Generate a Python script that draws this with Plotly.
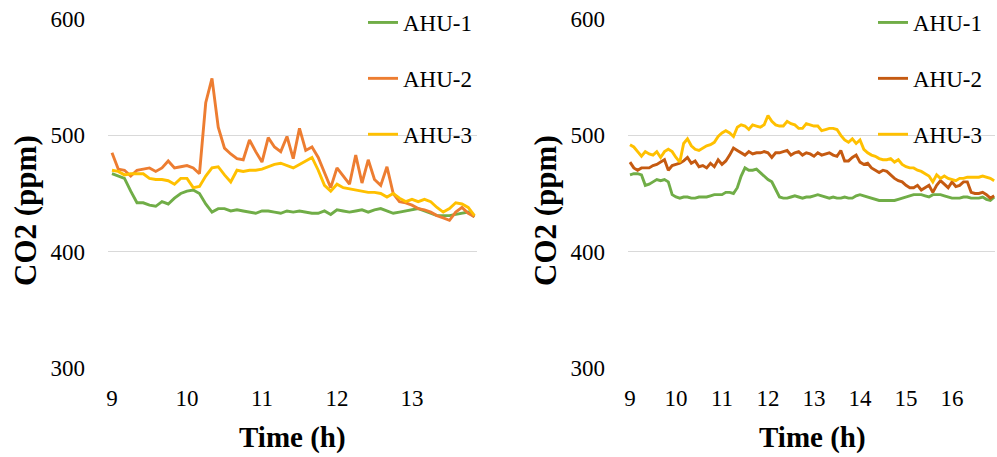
import plotly.graph_objects as go

# ---------------- data ----------------
series_names = ["AHU-1", "AHU-2", "AHU-3"]
x_ticks_left = [9, 10, 11, 12, 13]
x_ticks_right = [9, 10, 11, 12, 13, 14, 15, 16]
y_ticks = [300, 400, 500, 600]

# left panel (5-min samples from 9:00)
left_ahu1 = [467, 465, 463, 452, 442, 442, 440, 439, 443, 441,
             446, 450, 452, 453, 450, 441, 434, 437, 437, 435,
             436, 435, 434, 433, 435, 435, 434, 433, 435, 434,
             435, 434, 433, 433, 435, 432, 436, 435, 434, 435,
             436, 434, 436, 437, 435, 433, 434, 435, 436, 437,
             435, 433, 431, 431, 431, 432, 433, 434, 430]
left_ahu2 = [485, 471, 470, 465, 470, 471, 472, 469, 472, 478,
             472, 473, 474, 472, 467, 528, 549, 507, 489, 484,
             480, 479, 496, 486, 477, 498, 490, 486, 499, 480,
             506, 487, 490, 481, 468, 455, 472, 465, 458, 483,
             459, 479, 462, 457, 473, 450, 443, 442, 440, 437,
             436, 434, 431, 429, 427, 434, 438, 433, 430]
left_ahu3 = [470, 469, 466, 467, 467, 467, 463, 462, 462, 461,
             458, 463, 463, 455, 456, 465, 472, 473, 466, 460,
             470, 469, 470, 470, 471, 473, 475, 476, 474, 472,
             475, 478, 481, 470, 457, 452, 458, 455, 454, 453,
             452, 451, 451, 450, 447, 450, 446, 443, 445, 443,
             445, 443, 438, 434, 437, 442, 441, 438, 431]

# right panel (5-min samples from 9:00)
right_ahu1 = [466, 467, 467, 466, 457, 458, 460, 462, 461, 462,
              460, 449, 447, 446, 447, 447, 446, 446, 447, 447,
              447, 448, 449, 449, 449, 451, 451, 450, 455, 465,
              472, 470, 470, 471, 468, 465, 462, 460, 453, 447,
              446, 446, 447, 448, 447, 446, 447, 447, 448, 449,
              448, 447, 446, 447, 446, 446, 447, 446, 446, 448,
              449, 448, 447, 446, 445, 444, 444, 444, 444, 444,
              445, 446, 447, 448, 449, 449, 449, 448, 447, 449,
              449, 449, 448, 447, 446, 446, 446, 447, 447, 446,
              446, 446, 447, 445, 444, 447]
right_ahu2 = [477, 472, 470, 472, 472, 472, 474, 475, 477, 479,
              470, 474, 475, 476, 478, 481, 476, 478, 473, 474,
              472, 476, 473, 479, 475, 478, 483, 489, 487, 485,
              483, 486, 484, 485, 485, 486, 485, 481, 485, 485,
              486, 487, 483, 485, 486, 483, 485, 484, 482, 485,
              483, 484, 485, 483, 482, 487, 478, 478, 481, 483,
              477, 475, 476, 472, 470, 468, 470, 469, 466, 463,
              461, 460, 457, 455, 455, 457, 453, 455, 457, 451,
              457, 461, 458, 455, 460, 456, 457, 460, 460, 451,
              450, 450, 451, 449, 446, 448]
right_ahu3 = [492, 490, 486, 482, 486, 484, 483, 486, 481, 486,
              488, 486, 481, 477, 493, 497, 491, 488, 487, 489,
              491, 492, 494, 499, 502, 504, 502, 499, 507, 509,
              508, 505, 509, 508, 507, 509, 517, 512, 509, 508,
              508, 512, 510, 509, 506, 506, 510, 509, 508, 508,
              504, 505, 506, 506, 505, 500, 496, 494, 497, 493,
              496, 488, 485, 483, 482, 480, 479, 479, 480, 477,
              479, 475, 473, 472, 472, 470, 469, 467, 465, 460,
              466, 463, 465, 463, 462, 461, 463, 463, 464, 464,
              464, 464, 465, 464, 463, 461]

t_left = [9 + i * 5 / 60 for i in range(len(left_ahu1))]
t_right = [9 + i * 5 / 60 for i in range(len(right_ahu1))]

# ---------------- styling ----------------
FONT = "Liberation Serif, Times New Roman, serif"
W, H = 997, 457
left_colors = ["#70AD47", "#ED7D31", "#FFC000"]
right_colors = ["#70AD47", "#C55A11", "#FFC000"]
GRID = "#D9D9D9"

fig = go.Figure()

for name, vals, col in zip(series_names, [left_ahu1, left_ahu2, left_ahu3], left_colors):
    fig.add_trace(go.Scatter(x=t_left, y=vals, mode="lines", name=name,
                             line=dict(color=col, width=2.9),
                             xaxis="x", yaxis="y", legend="legend",
                             legendgroup="L" + name))
for name, vals, col in zip(series_names, [right_ahu1, right_ahu2, right_ahu3], right_colors):
    fig.add_trace(go.Scatter(x=t_right, y=vals, mode="lines", name=name,
                             line=dict(color=col, width=2.9),
                             xaxis="x2", yaxis="y2", legend="legend2",
                             legendgroup="R" + name))

ydom = [1 - 368 / H, 1 - 19 / H]

common_x = dict(showgrid=False, zeroline=False, showline=False, ticks="",
                tickfont=dict(family=FONT, size=23, color="#000000"),
                ticklabelstandoff=14, tickmode="array", automargin=False)
common_y = dict(showgrid=True, gridcolor=GRID, gridwidth=1.3, zeroline=False,
                showline=False, ticks="", range=[300, 600], tickmode="array",
                tickvals=y_ticks, ticktext=[str(v) for v in y_ticks],
                tickfont=dict(family=FONT, size=23, color="#000000"),
                ticklabelstandoff=22, automargin=False)

legend_common = dict(font=dict(family=FONT, size=23, color="#000000"),
                     bgcolor="rgba(0,0,0,0)", borderwidth=0,
                     tracegroupgap=23, xanchor="left", yanchor="top",
                     itemwidth=30)

fig.update_layout(
    width=W, height=H,
    font=dict(family=FONT, color="#000000"),
    margin=dict(l=0, r=0, t=0, b=0, pad=0, autoexpand=False),
    paper_bgcolor="white", plot_bgcolor="white",
    xaxis=dict(domain=[108 / W, 477 / W], range=[8.947, 13.867],
               tickvals=x_ticks_left, ticktext=[str(v) for v in x_ticks_left],
               anchor="y", **common_x),
    yaxis=dict(domain=ydom, anchor="x", **common_y),
    xaxis2=dict(domain=[628 / W, 995 / W], range=[8.957, 16.935],
                tickvals=x_ticks_right, ticktext=[str(v) for v in x_ticks_right],
                anchor="y2", **common_x),
    yaxis2=dict(domain=ydom, anchor="x2", **common_y),
    legend=dict(x=363 / W, y=1 - 1 / H, **legend_common),
    legend2=dict(x=873 / W, y=1 - 1 / H, **legend_common),
    showlegend=True,
    annotations=[
        dict(text="<b>Time (h)</b>", x=292 / W, y=1 - 437 / H, xref="paper", yref="paper",
             showarrow=False, font=dict(family=FONT, size=29, color="#000000"),
             xanchor="center", yanchor="middle"),
        dict(text="<b>Time (h)</b>", x=812 / W, y=1 - 437 / H, xref="paper", yref="paper",
             showarrow=False, font=dict(family=FONT, size=29, color="#000000"),
             xanchor="center", yanchor="middle"),
        dict(text="<b>CO2 (ppm)</b>", x=25 / W, y=1 - 211 / H, xref="paper", yref="paper",
             showarrow=False, textangle=-90, font=dict(family=FONT, size=31, color="#000000"),
             xanchor="center", yanchor="middle"),
        dict(text="<b>CO2 (ppm)</b>", x=545 / W, y=1 - 211 / H, xref="paper", yref="paper",
             showarrow=False, textangle=-90, font=dict(family=FONT, size=31, color="#000000"),
             xanchor="center", yanchor="middle"),
    ],
)

fig.write_html("out.html")
